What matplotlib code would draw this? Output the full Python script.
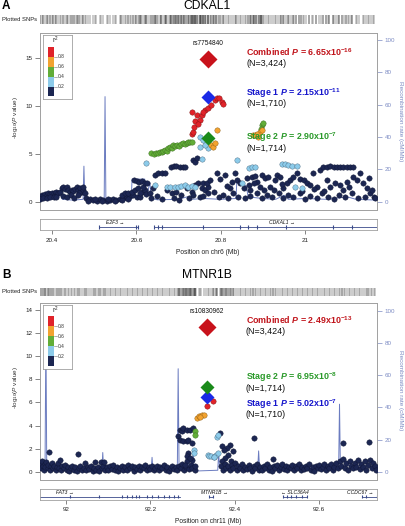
import matplotlib
matplotlib.use('Agg')
import matplotlib.pyplot as plt
from matplotlib.patches import Rectangle

plt.rcParams['font.family'] = ['Liberation Sans', 'DejaVu Sans']
plt.rcParams['mathtext.fontset'] = 'custom'
plt.rcParams['mathtext.rm'] = 'Liberation Sans'
plt.rcParams['mathtext.it'] = 'Liberation Sans:italic'
plt.rcParams['mathtext.bf'] = 'Liberation Sans:bold'
plt.rcParams['mathtext.bfit'] = 'Liberation Sans:italic:bold'
plt.rcParams['mathtext.default'] = 'regular'

# ---------------- DATA: panel A (CDKAL1, chr6) ----------------
A_NAVY = [
    (20.372, 0.53), (20.376, 0.70), (20.380, 0.59), (20.384, 0.80), (20.388, 0.70), (20.392, 0.87),
    (20.396, 0.77), (20.400, 0.94), (20.404, 0.87), (20.408, 0.70), (20.411, 0.98), (20.415, 0.87),
    (20.419, 1.05), (20.372, 0.25), (20.380, 0.35), (20.388, 0.35), (20.396, 0.45), (20.404, 0.53),
    (20.411, 0.53), (20.423, 1.39), (20.427, 1.57), (20.431, 1.29), (20.435, 1.50), (20.439, 1.22),
    (20.443, 1.05), (20.447, 1.22), (20.451, 1.15), (20.455, 1.29), (20.459, 1.57), (20.463, 1.22),
    (20.467, 1.39), (20.471, 1.05), (20.475, 1.22), (20.479, 0.87), (20.473, 1.57), (20.465, 0.94),
    (20.427, 0.60), (20.435, 0.45), (20.445, 0.70), (20.453, 0.40), (20.461, 0.65),
    (20.482, 0.35), (20.490, 0.25), (20.498, 0.18), (20.506, 0.11), (20.514, 0.25), (20.522, 0.18),
    (20.530, 0.11), (20.538, 0.18), (20.546, 0.25), (20.553, 0.14), (20.561, 0.28), (20.569, 0.35),
    (20.577, 0.45), (20.585, 0.59), (20.593, 0.70), (20.601, 0.53), (20.609, 0.45), (20.486, 0.11),
    (20.502, 0.28), (20.518, 0.07), (20.534, 0.32), (20.550, 0.07), (20.565, 0.18), (20.581, 0.25),
    (20.565, 0.70), (20.573, 0.87), (20.581, 0.94), (20.589, 1.05), (20.597, 1.22), (20.605, 1.39),
    (20.613, 1.05), (20.621, 1.22), (20.624, 0.80), (20.617, 1.57), (20.609, 0.87),
    (20.594, 2.26), (20.601, 2.19), (20.607, 2.09), (20.613, 2.16), (20.621, 1.98), (20.626, 1.91),
    (20.632, 0.87), (20.636, 0.35), (20.640, 1.39),
    (20.644, 2.78), (20.652, 2.96), (20.660, 3.03), (20.668, 2.96),
    (20.683, 3.58), (20.689, 3.72), (20.695, 3.72), (20.703, 3.65), (20.710, 3.58), (20.715, 3.65),
    (20.735, 4.34), (20.739, 4.17), (20.743, 4.52),
    (20.672, 1.22), (20.684, 0.87), (20.695, 1.05), (20.707, 0.70), (20.719, 1.39), (20.731, 1.05),
    (20.739, 1.74), (20.747, 1.91), (20.755, 1.39), (20.763, 1.22), (20.770, 1.57), (20.735, 0.70),
    (20.751, 0.53), (20.759, 0.59), (20.759, 1.91), (20.648, 0.55), (20.660, 0.30), (20.690, 0.40),
    (20.700, 0.20), (20.725, 0.35),
    (20.767, 1.91), (20.775, 2.26), (20.791, 2.96), (20.799, 2.33), (20.810, 2.78), (20.822, 1.39),
    (20.834, 2.96), (20.838, 2.26), (20.846, 1.91), (20.854, 1.39), (20.862, 2.44), (20.866, 1.74),
    (20.870, 1.22), (20.874, 2.61), (20.881, 2.68), (20.885, 2.09), (20.893, 1.57), (20.897, 2.78),
    (20.905, 2.44), (20.913, 2.61), (20.917, 1.57), (20.925, 1.22), (20.929, 2.26), (20.933, 2.78),
    (20.941, 2.54), (20.948, 1.39), (20.956, 1.91), (20.964, 2.26), (20.972, 2.61), (20.980, 2.96),
    (20.988, 2.33), (20.996, 2.26), (21.004, 1.91), (21.012, 1.74), (21.019, 2.96), (21.027, 1.57),
    (21.035, 3.30), (21.043, 3.65), (21.051, 3.65), (21.059, 3.72), (21.067, 3.65), (21.075, 3.58),
    (21.083, 3.65), (21.090, 3.65), (21.098, 3.65), (21.106, 3.65), (21.114, 3.58),
    (21.051, 2.26), (21.059, 1.57), (21.071, 1.91), (21.083, 1.74), (21.090, 1.22), (21.098, 2.09),
    (21.114, 2.61), (21.122, 2.26), (21.130, 2.96), (21.138, 1.91), (21.146, 1.39), (21.154, 0.87),
    (21.162, 0.53), (21.165, 0.35), (21.158, 1.22), (21.150, 2.44),
    (20.770, 0.87), (20.783, 1.05), (20.795, 0.53), (20.806, 0.70), (20.818, 0.35), (20.830, 0.87),
    (20.842, 0.53), (20.858, 0.35), (20.870, 0.59), (20.885, 0.87), (20.897, 0.35), (20.909, 0.70),
    (20.921, 0.53), (20.937, 0.94), (20.948, 0.35), (20.960, 0.70), (20.972, 0.45), (20.988, 0.87),
    (21.000, 0.25), (21.012, 0.59), (21.027, 0.35), (21.039, 0.94), (21.055, 0.53), (21.067, 0.28),
    (21.079, 0.70), (21.094, 0.45), (21.110, 0.87), (21.126, 0.35), (21.142, 0.53),
    (20.814, 1.60), (20.826, 2.10), (20.878, 1.90), (20.902, 1.20), (20.944, 1.80), (20.992, 1.10),
    (21.020, 1.30), (21.045, 1.10), (21.104, 1.50),
]
A_LBLUE = [
    (20.624, 4.00), (20.644, 1.74), (20.672, 1.57), (20.680, 1.50), (20.692, 1.57), (20.699, 1.57),
    (20.707, 1.64), (20.715, 1.74), (20.723, 1.57), (20.731, 1.64), (20.739, 1.50),
    (20.751, 6.77), (20.751, 5.73), (20.759, 6.43), (20.755, 4.50), (20.770, 5.56), (20.763, 5.90),
    (20.838, 4.30), (20.866, 3.47), (20.874, 3.65), (20.881, 3.65), (20.944, 3.93), (20.952, 3.93),
    (20.960, 3.82), (20.968, 3.72), (20.980, 3.72), (20.850, 1.91), (20.976, 1.57), (20.992, 1.39),
]
A_GREEN = [
    (20.636, 5.04), (20.641, 4.97), (20.646, 5.08), (20.651, 5.04), (20.656, 5.20), (20.660, 5.15),
    (20.664, 5.30), (20.668, 5.38), (20.672, 5.30), (20.676, 5.55), (20.680, 5.73), (20.684, 5.62),
    (20.688, 5.90), (20.692, 5.80), (20.697, 5.90), (20.701, 5.85), (20.706, 6.00), (20.711, 6.08),
    (20.715, 6.05), (20.719, 6.15), (20.723, 6.20), (20.727, 6.25), (20.731, 6.20),
    (20.897, 8.00), (20.899, 8.20), (20.895, 7.60),
]
A_ORANGE = [
    (20.778, 5.90), (20.782, 5.73), (20.790, 7.47), (20.786, 6.08), (20.881, 6.95), (20.889, 6.77),
    (20.893, 7.30), (20.897, 7.47), (20.885, 7.10), (20.877, 6.90),
]
A_RED = [
    (20.732, 7.10), (20.735, 7.30), (20.737, 7.80), (20.739, 8.45), (20.744, 9.00), (20.733, 9.38),
    (20.751, 8.51), (20.755, 9.03), (20.763, 9.55), (20.770, 9.73), (20.778, 10.07), (20.786, 10.60),
    (20.790, 10.77), (20.796, 10.77), (20.802, 10.42), (20.806, 10.20), (20.745, 8.10), (20.758, 9.30),
]
A_REC_POS = [20.372, 20.400, 20.415, 20.420, 20.425, 20.450, 20.474, 20.476, 20.478, 20.500, 20.524,
             20.526, 20.528, 20.560, 20.588, 20.590, 20.620, 20.625, 20.632, 20.636, 20.650, 20.700,
             20.720, 20.730, 20.760, 20.800, 20.836, 20.838, 20.860, 20.865, 20.900, 20.930, 20.950,
             20.960, 21.000, 21.050, 21.100, 21.120, 21.170]
A_REC_RATE = [1.0, 1.5, 2.0, 5.0, 1.5, 1.0, 1.5, 22.0, 1.5, 1.0, 1.0,
              65.0, 1.0, 0.8, 1.0, 14.0, 14.0, 3.0, 12.0, 2.0, 1.2, 1.5,
              3.0, 1.5, 2.0, 1.5, 2.0, 12.0, 10.0, 3.0, 2.0, 1.5, 4.0,
              1.5, 2.0, 1.5, 3.0, 1.5, 1.0]
A_LEAD_POS = 20.769
A_LEAD = {'Combined': 14.86, 'Stage 1': 10.94, 'Stage 2': 6.67}
A_SNP = 'rs7754840'
A_ANN = [('Combined', '6.65x10', '-16', '(N=3,424)'),
         ('Stage 1', '2.15x10', '-11', '(N=1,710)'),
         ('Stage 2', '2.90x10', '-7', '(N=1,714)')]
A_ANN_Y = [15.6, 11.35, 6.7]
A_GENES = [('E2F3', 20.512, 20.604, '+', 20.550), ('CDKAL1', 20.642, 21.170, '+', 20.945)]
A_EXONS = [20.512, 20.600, 20.604, 20.642, 20.652, 20.660, 20.758, 20.845, 20.865, 20.885,
           20.955, 21.065, 21.110]
A_XTICKS = [20.4, 20.6, 20.8, 21.0]
A_XTICKLABELS = ['20.4', '20.6', '20.8', '21']
A_YTICKS = [0, 5, 10, 15]

# ---------------- DATA: panel B (MTNR1B, chr11) ----------------
B_NAVY = [
    (91.939, 0.75), (91.941, 0.35), (91.943, 0.90), (91.945, 0.55), (91.947, 0.20), (91.949, 0.65),
    (91.951, 0.40), (91.953, 0.85), (91.956, 0.30), (91.958, 0.60), (91.960, 1.69), (91.962, 0.15),
    (91.964, 0.50), (91.967, 0.75), (91.970, 0.30), (91.972, 0.55), (91.975, 0.20), (91.978, 0.45),
    (91.981, 0.80), (91.985, 1.06), (91.984, 0.35), (91.988, 0.15), (91.991, 0.50), (91.994, 0.30),
    (91.998, 0.60), (92.001, 0.20), (92.004, 0.45), (92.008, 0.10), (92.011, 0.35), (92.015, 0.55),
    (92.018, 0.20), (92.022, 0.40), (92.026, 0.10), (92.029, 1.58), (92.030, 0.30), (92.034, 0.50),
    (92.038, 0.20), (92.042, 0.35), (92.045, 0.77), (92.047, 0.15), (92.051, 0.40), (92.055, 0.25),
    (92.059, 0.50), (92.063, 0.10), (92.068, 0.83), (92.067, 0.35), (92.071, 0.20), (92.075, 0.45),
    (92.079, 0.10), (92.082, 0.83), (92.084, 0.30), (92.088, 0.55), (92.090, 0.83), (92.092, 0.20),
    (92.096, 0.40), (92.100, 0.15), (92.104, 0.50), (92.108, 0.25), (92.112, 0.60), (92.116, 0.20),
    (92.120, 0.40), (92.124, 0.10), (92.128, 0.35), (92.132, 0.55), (92.136, 0.20), (92.140, 0.45),
    (92.144, 0.15), (92.148, 0.60), (92.152, 0.30), (92.156, 0.50), (92.160, 0.10), (92.164, 0.40),
    (92.168, 0.25), (92.172, 0.55), (92.176, 0.20), (92.180, 0.45), (92.184, 0.30), (92.188, 0.60),
    (92.192, 0.15), (92.196, 0.40), (92.200, 0.25), (92.204, 0.50), (92.208, 0.20), (92.212, 0.35),
    (92.216, 0.55), (92.220, 0.15), (92.224, 0.40), (92.228, 0.30), (92.232, 0.60), (92.236, 0.20),
    (92.240, 0.45), (92.244, 0.10), (92.248, 0.35), (92.252, 0.55), (92.256, 0.25), (92.260, 0.40),
    (92.264, 0.15), (92.268, 0.50), (92.272, 0.30), (92.276, 0.70), (92.280, 0.20), (92.284, 0.45),
    (92.288, 0.90), (92.292, 0.25), (92.296, 0.60), (92.300, 0.30), (92.306, 0.15),
    (92.266, 3.07), (92.270, 3.65), (92.274, 3.50), (92.278, 3.79), (92.286, 3.65), (92.294, 3.65),
    (92.302, 3.79), (92.270, 2.78), (92.278, 2.64), (92.286, 2.64), (92.290, 2.78), (92.298, 2.50),
    (92.290, 1.64), (92.286, 1.35), (92.282, 0.63), (92.298, 1.06), (92.306, 0.49), (92.294, 1.20),
    (92.366, 3.36), (92.390, 2.35), (92.370, 2.21), (92.381, 2.07), (92.385, 1.50), (92.378, 1.20),
    (92.445, 2.93), (92.492, 1.12), (92.658, 2.50), (92.719, 2.55), (92.397, 1.78), (92.374, 1.92),
    (92.371, 0.95), (92.392, 0.90),
    (92.368, 0.50), (92.372, 0.20), (92.376, 0.70), (92.380, 0.35), (92.384, 0.55), (92.388, 0.15),
    (92.393, 0.60), (92.397, 0.30), (92.401, 0.75), (92.405, 0.20), (92.409, 0.50), (92.413, 0.30),
    (92.417, 0.65), (92.421, 0.15), (92.425, 0.45), (92.429, 0.25), (92.433, 0.60), (92.437, 0.35),
    (92.441, 0.10), (92.445, 0.50), (92.449, 0.30), (92.453, 0.70), (92.457, 0.20), (92.461, 0.45),
    (92.465, 0.15), (92.469, 0.55), (92.473, 0.30), (92.477, 0.65), (92.481, 0.20), (92.485, 0.45),
    (92.489, 0.10), (92.493, 0.50), (92.497, 0.35), (92.501, 0.60), (92.505, 0.20), (92.509, 0.40),
    (92.513, 0.70), (92.517, 0.25), (92.521, 0.50), (92.525, 0.15), (92.529, 0.45), (92.533, 0.30),
    (92.537, 0.60), (92.541, 0.20), (92.545, 0.50), (92.549, 0.35), (92.553, 0.65), (92.557, 0.15),
    (92.561, 0.40), (92.565, 0.25), (92.569, 0.55), (92.573, 0.30), (92.577, 0.70), (92.581, 0.20),
    (92.585, 0.45), (92.589, 0.10), (92.593, 0.50), (92.597, 0.35), (92.601, 0.60), (92.605, 0.25),
    (92.609, 0.45), (92.613, 0.70), (92.617, 0.20), (92.621, 0.50), (92.625, 0.30), (92.629, 0.65),
    (92.633, 0.15), (92.637, 0.45), (92.641, 0.80), (92.645, 0.30), (92.649, 0.90), (92.653, 0.50),
    (92.657, 1.10), (92.661, 0.35), (92.665, 0.75), (92.669, 0.20), (92.673, 0.95), (92.677, 0.50),
    (92.681, 0.30), (92.685, 0.80), (92.689, 0.45), (92.693, 1.05), (92.697, 0.25), (92.701, 0.70),
    (92.705, 0.40), (92.709, 0.90), (92.713, 0.20), (92.717, 0.60), (92.721, 1.00), (92.725, 0.35),
    (92.729, 0.80), (92.733, 0.50), (92.736, 0.20),
]
B_LBLUE = [
    (92.304, 1.92), (92.304, 1.64), (92.337, 1.50), (92.340, 1.35), (92.345, 1.40), (92.350, 1.30),
    (92.356, 1.45), (92.360, 1.60), (92.357, 3.04), (92.360, 3.20), (92.352, 1.25),
]
B_GREEN = [(92.306, 3.50), (92.307, 3.20)]
B_ORANGE = [(92.310, 4.65), (92.316, 4.80), (92.322, 4.94), (92.328, 4.94), (92.319, 4.70)]
B_RED = [(92.3335, 5.72), (92.349, 6.09)]
B_REC_POS = [91.938, 91.950, 91.952, 91.954, 91.970, 92.000, 92.040, 92.085, 92.087, 92.089, 92.150,
             92.202, 92.204, 92.206, 92.264, 92.266, 92.268, 92.300, 92.302, 92.304, 92.360, 92.362,
             92.364, 92.400, 92.455, 92.457, 92.459, 92.550, 92.620, 92.647, 92.649, 92.651, 92.700,
             92.738]
B_REC_RATE = [3.0, 3.0, 90.0, 3.0, 2.0, 1.5, 1.5, 1.5, 12.0, 1.5, 1.5,
              1.5, 9.0, 1.5, 1.5, 64.0, 4.5, 4.5, 12.0, 0.5, 1.0, 12.0,
              4.0, 4.0, 3.0, 13.0, 3.0, 3.0, 3.0, 3.0, 42.0, 4.0, 4.0,
              3.0]
B_LEAD_POS = 92.3335
B_LEAD = {'Combined': 12.55, 'Stage 1': 6.43, 'Stage 2': 7.33}
B_SNP = 'rs10830962'
B_ANN = [('Combined', '2.49x10', '-13', '(N=3,424)'),
         ('Stage 2', '6.95x10', '-8', '(N=1,714)'),
         ('Stage 1', '5.02x10', '-7', '(N=1,710)')]
B_ANN_Y = [13.13, 8.19, 5.89]
B_GENES = [('FAT3', 91.900, 92.270, '+', 91.997), ('MTNR1B', 92.339, 92.349, '+', 92.351),
           ('SLC36A4', 92.515, 92.571, '-', 92.543), ('CCDC67', 92.702, 92.738, '+', 92.697)]
B_EXONS = [92.010, 92.077, 92.133, 92.145, 92.157, 92.165, 92.173, 92.193, 92.205, 92.217, 92.233,
           92.245, 92.257, 92.265, 92.339, 92.349, 92.515, 92.525, 92.535, 92.545, 92.560, 92.571,
           92.702, 92.712, 92.738]
B_XTICKS = [92.0, 92.2, 92.4, 92.6]
B_XTICKLABELS = ['92', '92.2', '92.4', '92.6']
B_YTICKS = [0, 2, 4, 6, 8, 10, 12, 14]

R2_LABELS = ['0.8', '0.6', '0.4', '0.2']
REC_TICKS = [0, 20, 40, 60, 80, 100]

# ---------------- STYLE ----------------
NAVY = '#1c2652'
LBLUE = '#8ccbea'
GREEN = '#62ad38'
ORANGE = '#f2a331'
RED = '#e0232a'
LEGEND_COLORS = [RED, ORANGE, GREEN, LBLUE, NAVY]
REC = '#6b7cc0'
REC_AX = '#7d8cc4'
FRAME = '#a0a0a0'
ANN_COL = {'Combined': '#c1141b', 'Stage 1': '#1616cc', 'Stage 2': '#2a9a2a'}
DIA_COL = {'Combined': '#c8121b', 'Stage 1': '#1a2ae6', 'Stage 2': '#1a8a1a'}
DIA_SIZE = {'Combined': 9.5, 'Stage 1': 7.2, 'Stage 2': 7.2}

W, H = 405, 526
fig = plt.figure(figsize=(W / 100, H / 100), dpi=100)


def fbox(x0, y0, x1, y1):
    return [x0 / W, 1 - y1 / H, (x1 - x0) / W, (y1 - y0) / H]


def fpt(x, y):
    return x / W, 1 - y / H


def unzip(pts):
    return [p[0] for p in pts], [p[1] for p in pts]


def panel(off, letter, title, xlim, ylim, yticks, navy, lblue, green, orange, red,
          rec_pos, rec_rate, rec_top, lead_pos, lead, snp, ann, ann_y, genes, exons,
          xticks, xticklabels, chrom, rug_y):
    rec_ylim = (ylim[0] * 100 / rec_top, ylim[1] * 100 / rec_top)
    ax = fig.add_axes(fbox(40, 33 + off, 377, 210 + off))
    ax2 = ax.twinx()
    ax2.plot(rec_pos, rec_rate, color=REC, lw=0.7, zorder=1)
    ax2.set_ylim(rec_ylim)
    ax2.set_yticks(REC_TICKS)
    ax2.tick_params(axis='y', direction='out', length=3.5, width=0.5, colors=REC_AX,
                    labelsize=4.5, pad=2)
    ax.set_zorder(ax2.get_zorder() + 1)
    ax.patch.set_visible(False)
    for a in (ax, ax2):
        for s in a.spines.values():
            s.set_color(FRAME)
            s.set_linewidth(0.6)
    ax.set_xlim(xlim)
    ax2.set_xlim(xlim)
    ax.set_ylim(ylim)
    ax.set_xticks([])
    ax.set_yticks(yticks)
    ax.tick_params(axis='y', direction='out', length=3.5, width=0.5, colors='#555555',
                   labelcolor='#222222', labelsize=4.5, pad=2)

    for pts, col, ec in ((navy, NAVY, '#0e1533'), (lblue, LBLUE, '#4a6a80'),
                         (green, GREEN, '#3a6a20'), (orange, ORANGE, '#8a5a10'),
                         (red, RED, '#7a1010')):
        x, y = unzip(pts)
        ax.scatter(x, y, s=15, c=col, edgecolors=ec, linewidths=0.3, zorder=3)

    for key, val in lead.items():
        ax.plot([lead_pos], [val], marker='D', ms=DIA_SIZE[key], color=DIA_COL[key],
                mec='none', zorder=5, ls='none')
    ax.text(lead_pos, lead['Combined'] + 1.6 * (ylim[1] - ylim[0]) / 18.4, snp,
            ha='center', va='center', fontsize=4.7, color='#111111', zorder=6)

    ann_x = xlim[0] + (246 - 40) / 337 * (xlim[1] - xlim[0])
    dy = 11.2 / 177 * (ylim[1] - ylim[0])
    for (name, mant, expo, ntxt), yv in zip(ann, ann_y):
        ax.text(ann_x, yv, name + r' $\mathbfit{P}$ = ' + mant + r'$^{\mathbf{' + expo + '}}$',
                color=ANN_COL[name], fontsize=6.4, fontweight='bold', ha='left', va='center',
                zorder=6)
        ax.text(ann_x, yv - dy, ntxt, color='#111111', fontsize=6.4, ha='left', va='center',
                zorder=6)

    # r^2 legend
    lg = fig.add_axes(fbox(43, 35 + off, 72, 99 + off))
    lg.set_zorder(ax.get_zorder() + 1)
    lg.set_xlim(43, 72)
    lg.set_ylim(99, 35)
    lg.set_xticks([])
    lg.set_yticks([])
    for s in lg.spines.values():
        s.set_color(FRAME)
        s.set_linewidth(0.6)
    for i, c in enumerate(LEGEND_COLORS):
        lg.add_patch(Rectangle((47.7, 46.7 + 10 * i), 6.6, 10 if i < 4 else 9.3,
                               facecolor=c, edgecolor='none'))
    for i, lab in enumerate(R2_LABELS):
        yy = 56.7 + 10 * i
        lg.plot([54.3, 56.6], [yy, yy], color='#777777', lw=0.4)
        lg.text(57.3, yy, lab, fontsize=3.5, va='center', ha='left', color='#333333')
    lg.text(55.5, 40.8, r'r$^2$', fontsize=4.8, ha='center', va='center', color='#222222')

    # gene track
    gax = fig.add_axes(fbox(40, 219 + off, 377, 230 + off))
    gax.set_xlim(xlim)
    gax.set_ylim(0, 1)
    gax.set_yticks([])
    gax.set_xticks(xticks)
    gax.set_xticklabels(xticklabels)
    gax.tick_params(axis='x', direction='out', length=3, width=0.5, colors='#555555',
                    labelcolor='#222222', labelsize=4.5, pad=2.5)
    for s in gax.spines.values():
        s.set_color(FRAME)
        s.set_linewidth(0.6)
    for name, g0, g1, strand, lx in genes:
        gax.plot([g0, g1], [0.27, 0.27], color='#3a4a8a', lw=0.6)
        lab = name + ' \u2192' if strand == '+' else '\u2190 ' + name
        gax.text(lx, 0.68, lab, fontsize=3.6, style='italic', ha='center', va='center',
                 color='#111111')
    gax.vlines(exons, 0.12, 0.42, color='#3a4a8a', lw=0.8)

    # rug of plotted SNPs (absolute pixel rows)
    rax = fig.add_axes(fbox(40, rug_y[0], 376, rug_y[1]))
    allpos = [p[0] for grp in (navy, lblue, green, orange, red) for p in grp]
    rax.vlines(allpos, 0, 1, color='#333333', lw=0.35)
    rax.set_xlim(xlim)
    rax.set_ylim(0, 1)
    rax.axis('off')

    fig.text(*fpt(1.5, (rug_y[0] + rug_y[1]) / 2), 'Plotted SNPs', fontsize=4.2,
             va='center', ha='left', color='#222222')
    fig.text(*fpt(2, 6 + off), letter, fontsize=8.5, fontweight='bold', va='center', ha='left')
    fig.text(*fpt(207, 6 + off), title, fontsize=8.7, va='center', ha='center')
    fig.text(*fpt(16, 118 + off), r'-log$_{10}$($\it{P}$ value)', fontsize=4.6,
             rotation=90, va='center', ha='center', color='#333333')
    fig.text(*fpt(400, 121 + off), 'Recombination rate (cM/Mb)', fontsize=4.6,
             rotation=270, va='center', ha='center', color=REC_AX)
    fig.text(*fpt(208, 252 + off), 'Position on ' + chrom + ' (Mb)', fontsize=4.8,
             va='center', ha='center', color='#222222')


panel(0, 'A', 'CDKAL1', (20.372, 21.170), (-0.86, 17.57), A_YTICKS,
      A_NAVY, A_LBLUE, A_GREEN, A_ORANGE, A_RED, A_REC_POS, A_REC_RATE, 16.84,
      A_LEAD_POS, A_LEAD, A_SNP, A_ANN, A_ANN_Y, A_GENES, A_EXONS,
      A_XTICKS, A_XTICKLABELS, 'chr6', (15, 23.5))
panel(269.5, 'B', 'MTNR1B', (91.938, 92.738), (-0.66, 14.64), B_YTICKS,
      B_NAVY, B_LBLUE, B_GREEN, B_ORANGE, B_RED, B_REC_POS, B_REC_RATE, 13.93,
      B_LEAD_POS, B_LEAD, B_SNP, B_ANN, B_ANN_Y, B_GENES, B_EXONS,
      B_XTICKS, B_XTICKLABELS, 'chr11', (288, 295.5))

fig.savefig('out.png', dpi=100)
